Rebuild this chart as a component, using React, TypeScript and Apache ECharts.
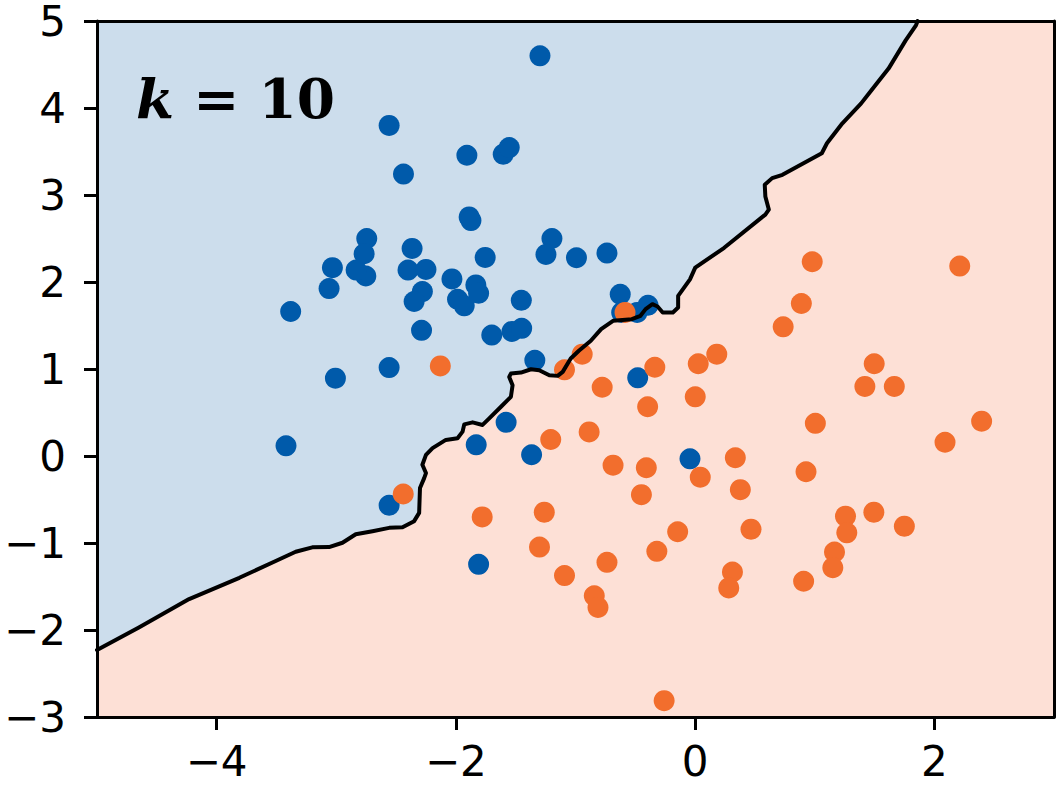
import React, { useEffect, useRef } from 'react';
import * as echarts from 'echarts';

const blueX = [-1.297, -2.558, -2.438, -1.908, -1.604, -1.554, -1.889, -1.874, -2.745, -2.767, -2.753, -2.834, -3.032, -3.06, -3.381, -2.366, -2.4, -2.25, -2.28, -2.349, -2.287, -2.033, -1.986, -1.93, -1.833, -1.81, -1.755, -1.7, -1.531, -1.45, -1.453, -1.197, -1.247, -0.992, -0.737, -0.626, -0.614, -0.485, -0.394, -1.34, -3.007, -2.558, -3.42, -2.558, -1.83, -1.58, -1.367, -1.81, -0.48, -0.043];
const blueY = [4.6, 3.8, 3.24, 3.457, 3.469, 3.545, 2.748, 2.706, 2.5, 2.325, 2.069, 2.137, 2.165, 1.924, 1.661, 2.386, 2.137, 2.145, 1.89, 1.776, 1.444, 2.035, 1.802, 1.726, 1.966, 1.871, 2.283, 1.39, 1.432, 1.467, 1.79, 2.5, 2.317, 2.279, 2.332, 1.859, 1.65, 1.65, 1.733, 1.1, 0.895, 1.016, 0.117, -0.566, 0.128, 0.387, 0.014, -1.245, 0.898, -0.032];

const orangeX = [-0.944, -1.092, -0.337, 0.026, 0.181, -0.777, -0.397, 0.001, 1.497, 1.419, 1.665, 1.005, 2.395, 2.089, -1.207, -0.886, -0.686, -0.408, 0.043, 0.336, 0.378, 0.927, -0.449, -1.261, -1.301, -1.092, -0.737, -0.843, -0.812, -0.32, -0.146, 0.467, 0.312, 0.281, 0.907, 1.257, 1.268, 1.494, 1.749, 1.165, 1.151, -0.259, 0.979, 2.212, 0.888, 0.736, -0.586, -2.13, -2.44, -1.78];
const orangeY = [1.17, 0.99, 1.02, 1.06, 1.17, 0.79, 0.566, 0.68, 1.06, 0.8, 0.8, 0.375, 0.4, 0.158, 0.19, 0.277, -0.105, -0.135, -0.243, -0.02, -0.387, -0.181, -0.444, -0.646, -1.047, -1.375, -1.222, -1.607, -1.741, -1.096, -0.871, -0.841, -1.333, -1.516, -1.44, -0.692, -0.883, -0.646, -0.807, -1.104, -1.284, -2.812, 2.233, 2.183, 1.753, 1.485, 1.65, 1.035, -0.437, -0.7];

const boundaryX = [-5.0, -4.65, -4.23, -3.81, -3.506, -3.339, -3.2, -3.06, -2.948, -2.837, -2.697, -2.558, -2.446, -2.349, -2.307, -2.3, -2.265, -2.25, -2.28, -2.25, -2.195, -2.084, -1.986, -1.944, -1.93, -1.86, -1.777, -1.721, -1.623, -1.54, -1.526, -1.554, -1.54, -1.456, -1.372, -1.303, -1.219, -1.149, -1.107, -1.04, -0.972, -0.872, -0.786, -0.686, -0.529, -0.457, -0.414, -0.357, -0.314, -0.271, -0.186, -0.142, -0.142, -0.043, 0.001, 0.243, 0.587, 0.616, 0.587, 0.582, 0.644, 0.73, 1.059, 1.102, 1.231, 1.388, 1.474, 1.617, 1.76, 1.846, 1.86];
const boundaryY = [-2.23, -1.97, -1.645, -1.4, -1.207, -1.1, -1.05, -1.047, -0.997, -0.9, -0.864, -0.826, -0.818, -0.749, -0.654, -0.368, -0.254, -0.196, -0.101, 0.013, 0.09, 0.185, 0.204, 0.28, 0.364, 0.387, 0.357, 0.433, 0.566, 0.68, 0.814, 0.909, 0.947, 0.959, 0.997, 0.986, 0.929, 0.921, 0.967, 1.12, 1.21, 1.325, 1.459, 1.554, 1.573, 1.611, 1.688, 1.745, 1.718, 1.65, 1.65, 1.707, 1.84, 2.031, 2.165, 2.393, 2.775, 2.832, 2.984, 3.118, 3.194, 3.232, 3.48, 3.595, 3.824, 4.053, 4.205, 4.453, 4.777, 4.95, 5.0];

const xTicks = [-4, -2, 0, 2];
const xMin = -5;
const xMax = 3;
const yMin = -3;
const yMax = 5;

const BLUE = '#005AAA';
const ORANGE = '#F26E2D';
const BLUE_BG = '#CCDDEC';
const ORANGE_BG = '#FDE0D6';

const fmt = (v: number) => (v < 0 ? '\u2212' + Math.abs(v) : String(v));

export default function App() {
  const ref = useRef<HTMLDivElement>(null);
  useEffect(() => {
    document.body.style.margin = '0';
    const chart = echarts.init(ref.current!, null, { renderer: 'svg' });
    const boundary = boundaryX.map((x, i) => [x, boundaryY[i]]);
    const axisLineStyle = { color: '#000', width: 3 };
    const labelStyle = { fontSize: 42, fontFamily: 'DejaVu Sans', color: '#000', lineHeight: 34 };
    chart.setOption({
      animation: false,
      grid: { left: 97, right: 7, top: 17, bottom: 68, containLabel: false },
      xAxis: [
        {
          type: 'value', min: xMin, max: xMax, position: 'bottom', z: 10,
          axisLine: { show: true, onZero: false, lineStyle: axisLineStyle },
          axisTick: { show: true, customValues: xTicks, length: 13, lineStyle: axisLineStyle },
          axisLabel: { customValues: xTicks, formatter: fmt, margin: 27, ...labelStyle },
          splitLine: { show: false },
        },
        {
          type: 'value', min: xMin, max: xMax, position: 'top', z: 10,
          axisLine: { show: true, onZero: false, lineStyle: axisLineStyle },
          axisTick: { show: false }, axisLabel: { show: false }, splitLine: { show: false },
        },
      ],
      yAxis: [
        {
          type: 'value', min: yMin, max: yMax, interval: 1, position: 'left', z: 10,
          axisLine: { show: true, onZero: false, lineStyle: axisLineStyle },
          axisTick: { show: true, length: 13, lineStyle: axisLineStyle },
          axisLabel: { formatter: fmt, margin: 31, ...labelStyle },
          splitLine: { show: false },
        },
        {
          type: 'value', min: yMin, max: yMax, interval: 1, position: 'right', z: 10,
          axisLine: { show: true, onZero: false, lineStyle: axisLineStyle },
          axisTick: { show: false }, axisLabel: { show: false }, splitLine: { show: false },
        },
      ],
      graphic: [
        {
          type: 'text', left: 136, top: 71, z: 20,
          style: {
            text: '{k|k} {r|= 10}',
            rich: {
              k: { fontFamily: 'DejaVu Serif', fontStyle: 'italic', fontWeight: 'bold', fontSize: 55, fill: '#000' },
              r: { fontFamily: 'DejaVu Serif', fontWeight: 'bold', fontSize: 55, fill: '#000' },
            },
            fontFamily: 'DejaVu Serif', fontWeight: 'bold', fontSize: 55, fill: '#000',
          },
        },
      ],
      series: [
        {
          type: 'custom', xAxisIndex: 0, yAxisIndex: 0, silent: true, z: 1,
          data: [[0, 0]],
          renderItem: (params: any, api: any) => {
            const pts = boundary.map((p) => api.coord(p));
            const bluePoly = pts.concat([api.coord([xMin, yMax])]);
            const orangePoly = pts.concat([api.coord([xMax, yMax]), api.coord([xMax, yMin]), api.coord([xMin, yMin])]);
            return {
              type: 'group',
              children: [
                { type: 'polygon', shape: { points: bluePoly }, style: { fill: BLUE_BG, stroke: BLUE_BG, lineWidth: 0.5 } },
                { type: 'polygon', shape: { points: orangePoly }, style: { fill: ORANGE_BG, stroke: ORANGE_BG, lineWidth: 0.5 } },
              ],
            };
          },
        },
        {
          type: 'scatter', symbol: 'circle', symbolSize: 21, z: 3,
          itemStyle: { color: BLUE, opacity: 1 },
          data: blueX.map((x, i) => [x, blueY[i]]),
        },
        {
          type: 'scatter', symbol: 'circle', symbolSize: 21, z: 4,
          itemStyle: { color: ORANGE, opacity: 1 },
          data: orangeX.map((x, i) => [x, orangeY[i]]),
        },
        {
          type: 'line', symbol: 'none', z: 5, silent: true,
          lineStyle: { color: '#000', width: 4, join: 'round', cap: 'round' },
          data: boundary,
        },
      ],
    });
    return () => chart.dispose();
  }, []);
  return <div ref={ref} style={{ width: 1061, height: 785 }} />;
}
